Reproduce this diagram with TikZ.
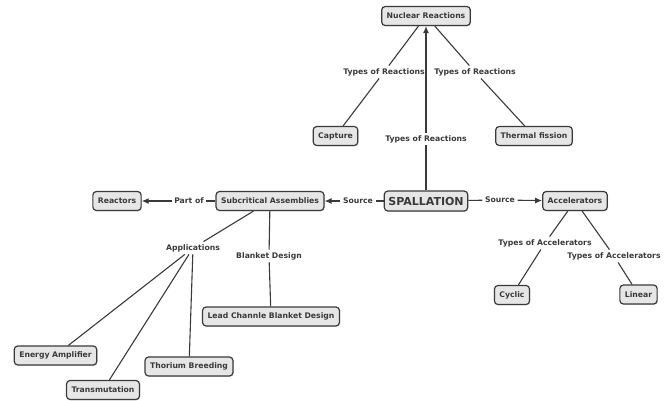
\documentclass[tikz,border=0pt]{standalone}
\usepackage{fontspec}
\setmainfont{DejaVu Sans}
\usetikzlibrary{arrows.meta,shadows}
\definecolor{boxfill}{HTML}{E6E6E6}
\definecolor{ink}{HTML}{3A3A3A}
\begin{document}
\begin{tikzpicture}[x=1pt,y=-1pt,
  concept/.style={draw=ink, line width=1.2pt, rounded corners=3.5pt, fill=boxfill,
    font=\bfseries\fontsize{7.7}{9}\selectfont, text=ink, inner xsep=5pt, inner ysep=0pt,
    minimum height=19pt, drop shadow={shadow xshift=0.8pt, shadow yshift=-0.8pt, opacity=0.25}},
  lbl/.style={font=\bfseries\fontsize{7.7}{9}\selectfont, text=ink, inner sep=2.5pt},
  link/.style={draw=ink, line width=1.1pt},
  arr/.style={link, -{Latex[length=7pt,width=6pt]}}
]
\useasboundingbox (0,0) rectangle (667,400);
% concepts
\node[concept] (nr) at (426,16) {Nuclear Reactions};
\node[concept] (cap) at (335.5,136) {Capture};
\node[concept] (tf) at (534,136) {Thermal fission};
\node[concept, font=\bfseries\fontsize{11}{13}\selectfont, minimum height=20pt, inner xsep=4pt] (sp) at (426,201) {SPALLATION};
\node[concept] (sub) at (270,201) {Subcritical Assemblies};
\node[concept] (rea) at (117,201) {Reactors};
\node[concept] (acc) at (575,201) {Accelerators};
\node[concept] (cyc) at (512,295) {Cyclic};
\node[concept] (lin) at (638.5,294.5) {Linear};
\node[concept] (lead) at (271,316.5) {Lead Channle Blanket Design};
\node[concept] (ea) at (55.5,355.5) {Energy Amplifier};
\node[concept] (tm) at (103,390) {Transmutation};
\node[concept] (th) at (189,366.5) {Thorium Breeding};
% labels
\node[lbl] (l1) at (384,72) {Types of Reactions};
\node[lbl] (l2) at (475,72) {Types of Reactions};
\node[lbl] (l3) at (426,139) {Types of Reactions};
\node[lbl] (po) at (189,201) {Part of};
\node[lbl] (s1) at (358,201) {Source};
\node[lbl] (s2) at (500,200) {Source};
\node[lbl] (app) at (193,248) {Applications};
\node[lbl] (bd) at (269,256) {Blanket Design};
\node[lbl] (ta1) at (545,243) {Types of Accelerators};
\node[lbl] (ta2) at (614,256) {Types of Accelerators};
% connectors
\draw[link] (sp) -- (l3);
\draw[arr] (l3) -- (nr);
\draw[link] (nr) -- (l1);
\draw[link] (l1) -- (cap);
\draw[link] (nr) -- (l2);
\draw[link] (l2) -- (tf);
\draw[link] (sp) -- (s1);
\draw[arr] (s1) -- (sub);
\draw[link] (sub) -- (po);
\draw[arr] (po) -- (rea);
\draw[link] (sp) -- (s2);
\draw[arr] (s2) -- (acc);
\draw[link] (acc) -- (ta1);
\draw[link] (ta1) -- (cyc);
\draw[link] (acc) -- (ta2);
\draw[link] (ta2) -- (lin);
\draw[link] (sub) -- (app);
\draw[link] (app) -- (ea);
\draw[link] (app) -- (tm);
\draw[link] (app) -- (th);
\draw[link] (sub) -- (bd);
\draw[link] (bd) -- (lead);
\end{tikzpicture}
\end{document}
